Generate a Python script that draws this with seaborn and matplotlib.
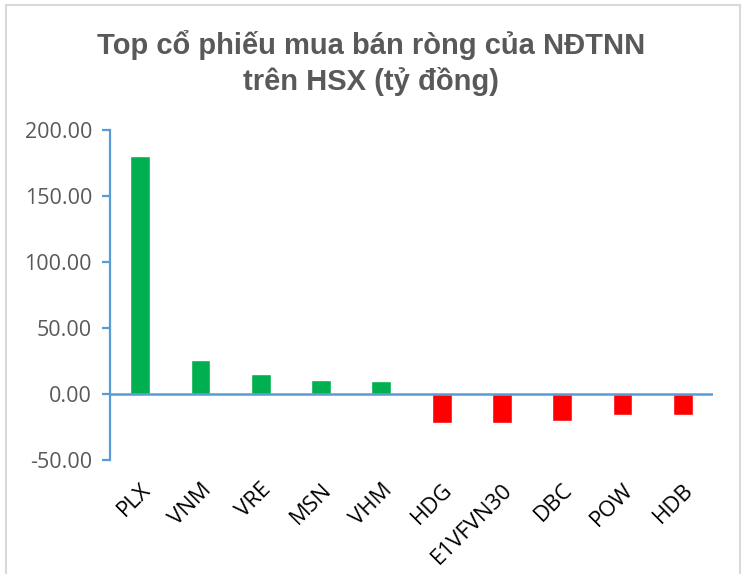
import matplotlib
matplotlib.use("Agg")
import matplotlib.pyplot as plt
import seaborn as sns
import pandas as pd
from matplotlib.patches import Rectangle

tickers = ["PLX", "VNM", "VRE", "MSN", "VHM", "HDG", "E1VFVN30", "DBC", "POW", "HDB"]
values = [180.3, 25.6, 14.9, 10.4, 9.6, -22.0, -22.0, -20.5, -15.9, -15.9]
y_ticks = [-50, 0, 50, 100, 150, 200]
title = "Top cổ phiếu mua bán ròng của NĐTNN\ntrên HSX (tỷ đồng)"

df = pd.DataFrame({"ticker": tickers, "value": values})
df["side"] = ["buy" if v >= 0 else "sell" for v in values]

sns.set_theme(style="white")
plt.rcParams["font.family"] = ["Open Sans", "DejaVu Sans"]

AXIS_BLUE = "#5B9BD5"

fig = plt.figure(figsize=(7.42, 5.74), dpi=100)
fig.patch.set_facecolor("white")
ax = fig.add_axes([110 / 742, (574 - 460) / 574, 603 / 742, 330 / 574])

sns.barplot(data=df, x="ticker", y="value", hue="side",
            palette={"buy": "#00B050", "sell": "#FF0000"},
            width=0.33, legend=False, ax=ax, saturation=1)

ax.set_ylim(-50, 200)
ax.set_xlim(-0.5, len(tickers) - 0.5)
ax.set_yticks(y_ticks)
ax.set_yticklabels([f"{t:.2f}" for t in y_ticks])
ax.set_xlabel("")
ax.set_ylabel("")

for s in ["top", "right", "bottom"]:
    ax.spines[s].set_visible(False)
ax.spines["left"].set_color(AXIS_BLUE)
ax.spines["left"].set_linewidth(1.6)
ax.axhline(0, color=AXIS_BLUE, lw=1.8, zorder=3)

ax.tick_params(axis="y", which="major", left=True, length=6, width=1.6,
               color=AXIS_BLUE, labelsize=15.5, labelcolor="#595959", pad=7)
ax.tick_params(axis="x", bottom=False, labelsize=16, labelcolor="black", pad=8)
for lbl in ax.get_xticklabels():
    lbl.set_rotation(45)
    lbl.set_ha("right")
    lbl.set_va("top")
    lbl.set_rotation_mode("anchor")

fig.text(0.5, 1 - 63 / 574, title, ha="center", va="center",
         fontsize=21, fontweight="bold", color="#595959",
         family=["Liberation Sans", "DejaVu Sans"], linespacing=1.3)

fig.patches.append(Rectangle((6 / 742, -0.05), (740 - 6) / 742, 1.05 - 5 / 574,
                             transform=fig.transFigure, fill=False,
                             edgecolor="#D9D9D9", lw=1.5))

fig.savefig("out.png", dpi=100)
